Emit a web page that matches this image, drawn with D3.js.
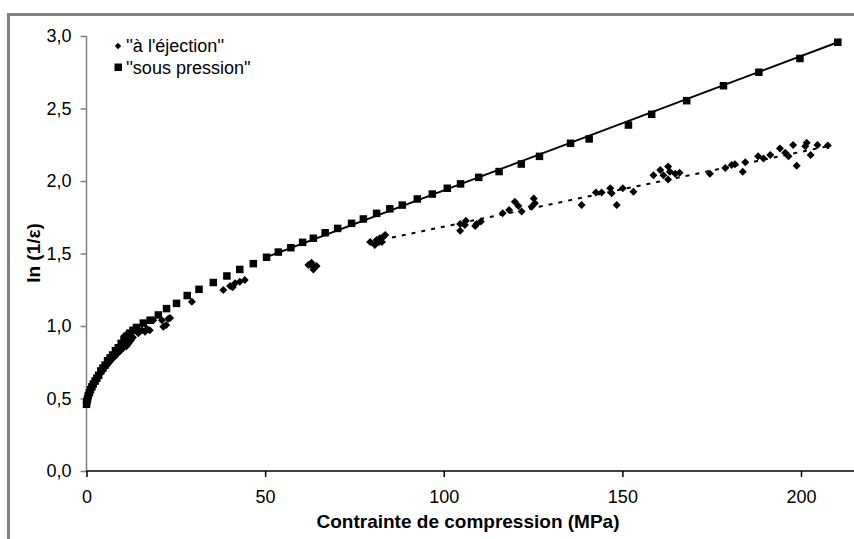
<!DOCTYPE html>
<html><head><meta charset="utf-8">
<script src="https://cdn.jsdelivr.net/npm/d3@7"></script>
<style>body{margin:0;background:#fff}svg{display:block}text{font-family:"Liberation Sans",Arial,sans-serif}</style>
</head><body><svg id="c" width="854" height="539"></svg>
<script>
// ---- data ----
const xTicks = [0, 50, 100, 150, 200];
const yTicks = [0, 0.5, 1.0, 1.5, 2.0, 2.5, 3.0];
const seriesNames = ["''à l'éjection''", "''sous pression''"];

const sousX = [0,0.1,0.3,0.5,0.8,1.1,1.5,1.9,2.4,2.9,3.4,4.0,4.6,5.2,5.9,6.6,7.3,8.1,8.9,9.7,10.5,11.3,12.1,13.0,14.0,
  15.9,17.8,20.1,22.4,25.2,28.2,31.5,35.5,39.3,42.9,46.7,50.4,53.7,57.2,60.5,63.5,66.8,70.3,74.2,77.5,81.2,84.9,88.4,92.6,96.8,101.0,104.7,109.8,115.5,121.7,126.8,135.5,140.7,151.7,158.2,168.0,178.3,188.2,199.7,210.3];
const sousY = [0.46,0.48,0.50,0.52,0.54,0.56,0.58,0.60,0.62,0.64,0.66,0.69,0.71,0.73,0.76,0.78,0.80,0.83,0.85,0.88,0.90,0.92,0.95,0.97,0.99,
  1.02,1.04,1.076,1.12,1.156,1.21,1.253,1.30,1.345,1.39,1.43,1.474,1.51,1.54,1.577,1.605,1.643,1.673,1.708,1.738,1.777,1.808,1.834,1.876,1.91,1.95,1.98,2.025,2.065,2.117,2.17,2.26,2.29,2.386,2.46,2.554,2.657,2.75,2.845,2.957];

const ejecX = [0,0.2,0.4,0.7,1.0,1.4,1.8,2.2,2.7,3.2,3.8,4.4,5.0,5.7,6.4,7.1,7.9,8.7,9.5,10.3,11.0,11.6,12.2,
  11.2,11.8,12.4,12.6,13.0,14.5,15.5,16.9,17.7,16.4,10.5,11.5,
  18.7,21.1,21.5,22.3,22.9,23.4,29.5,38.3,40.2,40.9,41.6,42.9,44.3,
  62.1,63.0,63.3,63.5,64.4,
  79.4,80.7,81.2,81.9,82.1,82.7,83.1,83.6,
  104.6,104.6,105.9,106.2,108.8,109.2,110.4,
  116.5,118.3,119.9,120.9,121.8,124.6,125.2,125.5,
  138.6,142.6,144.2,146.6,147.0,148.4,150.1,153.1,
  158.7,160.6,161.5,162.8,163.3,162.8,164.8,166.0,
  174.5,178.8,180.6,181.5,183.7,184.4,188.0,189.5,191.4,194.1,195.6,196.5,197.8,198.8,201.2,201.6,202.7,204.6,207.5];
const ejecY = [0.47,0.49,0.51,0.53,0.55,0.57,0.59,0.61,0.63,0.65,0.67,0.69,0.71,0.73,0.75,0.77,0.79,0.81,0.83,0.85,0.87,0.89,0.91,
  0.86,0.88,0.90,0.93,0.92,0.95,0.97,0.98,0.97,0.96,0.93,0.95,
  1.04,1.04,0.995,1.007,1.05,1.055,1.168,1.248,1.276,1.267,1.294,1.306,1.317,
  1.42,1.437,1.414,1.39,1.414,
  1.58,1.559,1.593,1.58,1.605,1.58,1.616,1.628,
  1.703,1.657,1.697,1.726,1.69,1.703,1.72,
  1.777,1.8,1.857,1.828,1.789,1.823,1.88,1.846,
  1.834,1.92,1.92,1.95,1.915,1.834,1.95,1.926,
  2.04,2.076,2.04,2.1,2.064,2.01,2.05,2.057,
  2.05,2.09,2.11,2.115,2.064,2.13,2.17,2.156,2.18,2.225,2.195,2.17,2.248,2.105,2.24,2.264,2.18,2.248,2.245];

// linear fit lines (endpoints)
const sousFitX = [50.9, 210.3];
const sousFitY = [1.48, 2.957];
const ejecFitX = [85.5, 208.5];
const ejecFitY = [1.61, 2.245];

// ---- drawing ----
const svg = d3.select("#c");
const x = d3.scaleLinear().domain([0, 200]).range([86.5, 801]);
const y = d3.scaleLinear().domain([0, 3]).range([471, 36]);
const FONT = '"Liberation Sans", Arial, sans-serif';
const X0 = x(0);

svg.append("rect").attr("x", 8.5).attr("y", 14.5).attr("width", 900).attr("height", 600)
  .attr("fill", "#fff").attr("stroke", "#808080").attr("stroke-width", 3);

// y axis
const yAxis = svg.append("g").attr("transform", `translate(${X0},0)`)
  .call(d3.axisLeft(y).tickValues(yTicks).tickSize(6).tickPadding(9)
    .tickFormat(d => d3.format(".1f")(d).replace(".", ",")));
yAxis.select(".domain").attr("stroke", "#808080").attr("stroke-width", 1.5)
  .attr("d", `M0,${y(3)}V${y(0)}`);
yAxis.selectAll(".tick line").attr("stroke", "#808080").attr("stroke-width", 1.5);
yAxis.selectAll(".tick text").attr("font-size", 18).attr("fill", "#000").style("font-family", FONT);

// x axis
const xAxis = svg.append("g").attr("transform", `translate(0,${y(0)})`)
  .call(d3.axisBottom(x).tickValues(xTicks).tickSize(6).tickPadding(13).tickFormat(d3.format("d")));
xAxis.select(".domain").attr("stroke", "#000").attr("stroke-width", 1.5).attr("d", `M${X0},0H854`);
xAxis.selectAll(".tick line").attr("stroke", "#000").attr("stroke-width", 1.5);
xAxis.selectAll(".tick text").attr("font-size", 18).attr("fill", "#000").style("font-family", FONT);

// titles
svg.append("text").attr("x", 468).attr("y", 528).attr("text-anchor", "middle")
  .attr("font-size", 19).attr("font-weight", "bold").text("Contrainte de compression (MPa)");
svg.append("text").attr("transform", "translate(40,253) rotate(-90)").attr("text-anchor", "middle")
  .attr("font-size", 19).attr("font-weight", "bold").text("ln (1/ε)");

// fit lines
const line = d3.line().x(d => x(d[0])).y(d => y(d[1]));
svg.append("path").datum(ejecFitX.map((v, i) => [v, ejecFitY[i]]))
  .attr("d", line).attr("fill", "none").attr("stroke", "#000").attr("stroke-width", 2)
  .attr("stroke-dasharray", "4,6");
svg.append("path").datum(sousFitX.map((v, i) => [v, sousFitY[i]]))
  .attr("d", line).attr("fill", "none").attr("stroke", "#000").attr("stroke-width", 2);

// markers
const dia = d3.symbol().type(d3.symbolSquare).size(32)();
svg.append("g").selectAll("path").data(ejecX.map((v, i) => [v, ejecY[i]])).join("path")
  .attr("d", dia).attr("fill", "#000")
  .attr("transform", d => `translate(${x(d[0])},${y(d[1])}) rotate(45)`);
svg.append("g").selectAll("rect").data(sousX.map((v, i) => [v, sousY[i]])).join("rect")
  .attr("x", d => x(d[0]) - 3.75).attr("y", d => y(d[1]) - 3.75)
  .attr("width", 7.5).attr("height", 7.5).attr("fill", "#000");

// legend
const lg = svg.append("g");
lg.append("path").attr("d", d3.symbol().type(d3.symbolSquare).size(20)())
  .attr("transform", "translate(118,46) rotate(45)").attr("fill", "#000");
lg.append("rect").attr("x", 114.5).attr("y", 63.5).attr("width", 7.5).attr("height", 7.5).attr("fill", "#000");
lg.append("text").attr("x", 126).attr("y", 52).attr("font-size", 18).text(seriesNames[0]);
lg.append("text").attr("x", 126).attr("y", 73.5).attr("font-size", 18).text(seriesNames[1]);
</script></body></html>
